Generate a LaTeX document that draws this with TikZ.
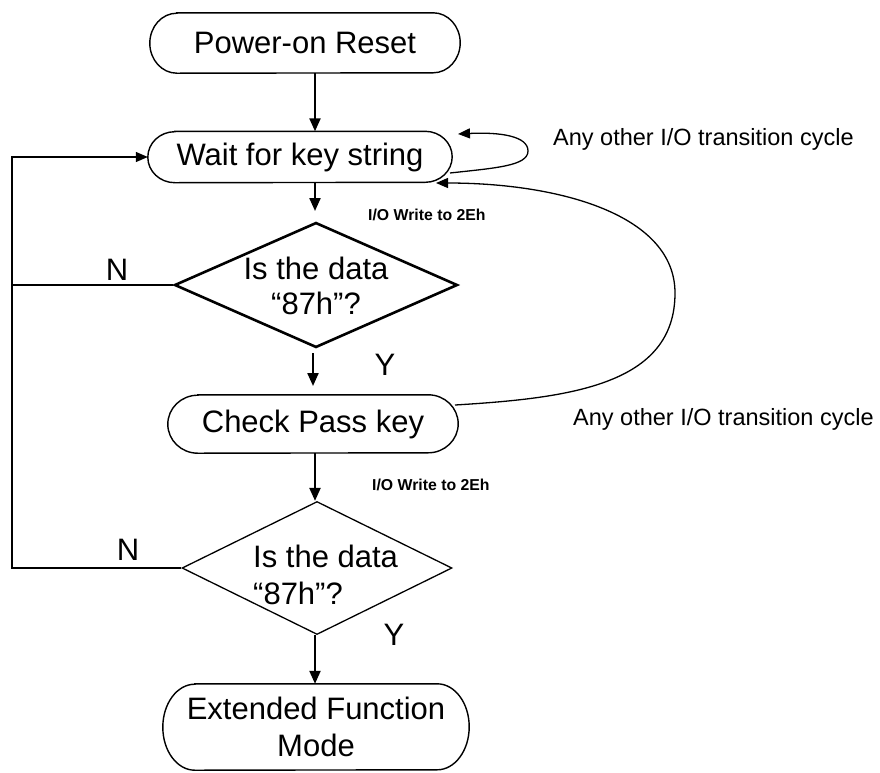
\documentclass[tikz,border=0pt]{standalone}
\usepackage{fontspec}
\setmainfont{Liberation Sans}
\usetikzlibrary{arrows.meta,shapes.geometric}
\newcommand\stadoutline[3]{%
  \draw[line width=1.4pt] ([xshift=#2]#1.north west) -- ([xshift=-#2]#1.north east)
    arc[start angle=90, end angle=-90, x radius=#2, y radius=#3]
    -- ([xshift=#2]#1.south west)
    arc[start angle=270, end angle=90, x radius=#2, y radius=#3] -- cycle;}
\begin{document}
\begin{tikzpicture}[x=1pt,y=-1pt,
  term/.style={inner sep=0pt, align=center, font=\fontsize{31}{37}\selectfont},
  dia/.style={draw, shape=diamond, inner sep=0pt},
  big/.style={inner sep=0pt, font=\fontsize{31}{35}\selectfont},
  small/.style={inner sep=0pt, anchor=base west, font=\fontsize{23.5}{28}\selectfont},
  wr/.style={inner sep=0pt, anchor=base west, font=\bfseries\fontsize{15.8}{18}\selectfont},
  arr/.style={line width=2.2pt, -{Triangle[length=13pt,width=11pt]}},
  ln/.style={line width=1.3pt},
  lnarr/.style={line width=1.3pt, -{Triangle[length=12pt,width=10pt]}}]
\useasboundingbox (0,0) rectangle (880,772);
% nodes
\node[term, minimum width=310pt, minimum height=60pt] (por) at (305,43) {Power-on Reset};
\stadoutline{por}{27pt}{30pt}
\node[term, minimum width=304pt, minimum height=51pt] (wait) at (300,157) {Wait for key string};
\stadoutline{wait}{27pt}{25.5pt}
\node[dia, line width=2.6pt, minimum width=283pt, minimum height=125pt] (q1) at (316,285) {};
\node[big, align=center] (q1t) at (316,286) {Is the data\\“87h”?};
\node[term, minimum width=290pt, minimum height=58pt] (check) at (313,424) {Check Pass key};
\stadoutline{check}{30pt}{29pt}
\node[dia, line width=1.3pt, minimum width=270pt, minimum height=133pt] (q2) at (317,568) {};
\node[big, align=left, anchor=west, font=\fontsize{31}{37}\selectfont] (q2t) at (253,575) {Is the data\\“87h”?};
\node[term, minimum width=306pt, minimum height=86pt] (ext) at (316,727) {Extended Function\\Mode};
\stadoutline{ext}{32pt}{43pt}
% labels
\node[big] (n1) at (117,270) {N};
\node[big] (n2) at (128,550) {N};
\node[big] (y1) at (385,365) {Y};
\node[big] (y2) at (394,635) {Y};
\node[wr] (w1) at (368,220) {I/O Write to 2Eh};
\node[wr] (w2) at (372,490) {I/O Write to 2Eh};
\node[small] (c1) at (553,145) {Any other I/O transition cycle};
\node[small] (c2) at (573,425) {Any other I/O transition cycle};
% helper coordinates
\coordinate (spine) at (315,0);
\coordinate (rail) at (12,400);
\coordinate (q1in) at (315,211);
\coordinate (q1out) at (313,353);
\coordinate (chin) at (313,386);
\coordinate (loopA) at (450,173);
\coordinate (loopB) at (458,134);
\coordinate (bigA) at (455,405);
\coordinate (bigB) at (436,183);
% connectors
\draw[arr] (por.south -| spine) -- (wait.north -| spine);
\draw[arr] (wait.south -| spine) -- (q1in);
\draw[arr] (q1out) -- (chin);
\draw[arr] (check.south -| spine) -- (q2.north -| spine);
\draw[arr] (q2.south -| spine) -- (ext.north -| spine);
\draw[ln] (q1.west) -- (q1.west -| rail);
\draw[lnarr] (q2.west) -| (rail) |- (wait.west);
\draw[lnarr] (loopA) .. controls (495,168) and (528,166) .. (528,151)
  .. controls (528,136) and (500,132) .. (loopB);
\draw[lnarr] (bigA) .. controls (570,398) and (675,385) .. (675,293)
  .. controls (675,215) and (560,183) .. (bigB);
\end{tikzpicture}
\end{document}
